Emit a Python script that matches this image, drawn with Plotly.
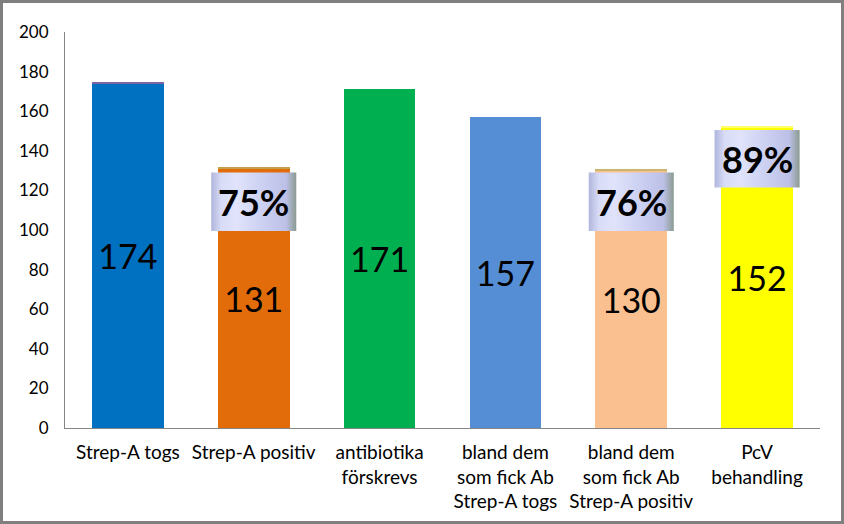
import plotly.graph_objects as go

categories = ["Strep-A togs", "Strep-A positiv", "antibiotika<br>förskrevs",
              "bland dem<br>som fick Ab<br>Strep-A togs", "bland dem<br>som fick Ab<br>Strep-A positiv",
              "PcV<br>behandling"]
values = [174, 131, 171, 157, 130, 152]
cap_values = [0.8, 1.0, 0, 0, 1.0, 0.6]
bar_colors = ["#0070c0", "#e36c0a", "#00b050", "#558ed5", "#fac090", "#ffff00"]
cap_colors = ["#8064a2", "#c4a04c", "#00b050", "#558ed5", "#c9b76e", "#ffff66"]
pct_index = [1, 4, 5]
pct_labels = ["75%", "76%", "89%"]
pct_box_low = [99.5, 99.5, 121.5]
pct_box_high = [129, 129, 150.5]

x = list(range(len(categories)))
font = "Lato, Liberation Sans, sans-serif"

fig = go.Figure()
fig.add_trace(go.Bar(
    x=x, y=values, marker=dict(color=bar_colors, line=dict(width=0)), width=0.57,
    text=[str(v) for v in values], textposition="inside", insidetextanchor="middle",
    textangle=0, textfont=dict(size=34, color="black", family=font),
    hoverinfo="skip", showlegend=False,
))
fig.add_trace(go.Bar(
    x=x, y=cap_values, marker=dict(color=cap_colors, line=dict(width=0)), width=0.57,
    hoverinfo="skip", showlegend=False,
))

half = 0.338
for i, lab, lo, hi in zip(pct_index, pct_labels, pct_box_low, pct_box_high):
    fig.add_trace(go.Scatter(
        x=[i - half, i + half, i + half, i - half, i - half],
        y=[lo, lo, hi, hi, lo], mode="lines", line=dict(width=0),
        fill="toself",
        fillgradient=dict(type="horizontal", colorscale=[
            [0, "#b0b5dc"], [0.12, "#d8dcf7"], [0.3, "#e0e3fa"], [0.65, "#c9cdf0"],
            [0.88, "#bcc0e6"], [1, "#8a9a90"]]),
        hoverinfo="skip", showlegend=False,
    ))
    fig.add_annotation(x=i, y=(lo + hi) / 2, text="<b>%s</b>" % lab, showarrow=False,
                       font=dict(size=36, color="black", family=font))

fig.update_layout(
    width=844, height=524, barmode="stack",
    margin=dict(l=65, r=24, t=32, b=96),
    plot_bgcolor="white", paper_bgcolor="white",
    xaxis=dict(range=[-0.5, 5.5], tickvals=x, ticktext=categories, showgrid=False,
               showline=True, linecolor="#868686", linewidth=1, ticks="",
               tickfont=dict(size=19, color="black", family=font), zeroline=False,
               ticklabelstandoff=7),
    yaxis=dict(range=[0, 200], dtick=20, showgrid=False, showline=True,
               linecolor="#868686", linewidth=1, ticks="", zeroline=False,
               tickfont=dict(size=17, color="black", family=font), ticklabelstandoff=12),
    shapes=[dict(type="rect", xref="paper", yref="paper",
                 x0=-63.5 / 755, x1=1 + 22.5 / 755, y0=-94.5 / 396, y1=1 + 30.5 / 396,
                 line=dict(color="#7f7f7f", width=3), fillcolor="rgba(0,0,0,0)", layer="above")],
)

fig.write_html("out.html", config={"displayModeBar": False},
               post_script="document.body.style.margin='0';document.body.style.overflow='hidden';")
